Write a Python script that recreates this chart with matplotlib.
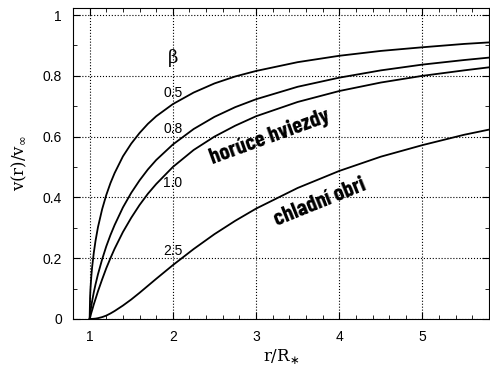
import numpy as np
import matplotlib.pyplot as plt
from matplotlib.ticker import MultipleLocator

# radius r/R* and velocity v(r)/v_inf
r = [1.0, 1.005, 1.01, 1.02, 1.03, 1.05, 1.07, 1.1, 1.15, 1.2, 1.25, 1.3,
     1.4, 1.5, 1.6, 1.7, 1.8, 2.0, 2.25, 2.5, 2.75, 3.0, 3.5, 4.0, 4.5, 5.0,
     5.5, 5.8]
v_05 = [0.0, 0.071, 0.100, 0.140, 0.171, 0.218, 0.256, 0.302, 0.361, 0.408,
        0.447, 0.480, 0.535, 0.577, 0.612, 0.642, 0.667, 0.707, 0.745, 0.775,
        0.798, 0.816, 0.845, 0.866, 0.882, 0.894, 0.905, 0.910]
v_08 = [0.0, 0.014, 0.025, 0.043, 0.059, 0.088, 0.113, 0.147, 0.196, 0.239,
        0.276, 0.309, 0.367, 0.415, 0.456, 0.492, 0.523, 0.574, 0.625, 0.665,
        0.697, 0.723, 0.764, 0.794, 0.818, 0.837, 0.852, 0.860]
v_10 = [0.0, 0.005, 0.010, 0.020, 0.029, 0.048, 0.065, 0.091, 0.130, 0.167,
        0.200, 0.231, 0.286, 0.333, 0.375, 0.412, 0.444, 0.500, 0.556, 0.600,
        0.636, 0.667, 0.714, 0.750, 0.778, 0.800, 0.818, 0.828]
v_25 = [0.0, 0.0, 0.0, 0.0001, 0.0001, 0.0005, 0.001, 0.0025, 0.006, 0.011,
        0.018, 0.026, 0.044, 0.064, 0.086, 0.109, 0.132, 0.177, 0.230, 0.279,
        0.323, 0.363, 0.431, 0.487, 0.534, 0.572, 0.606, 0.623]
beta_labels = ['0.5', '0.8', '1.0', '2.5']
label_y = [0.745, 0.626, 0.446, 0.223]

sans = ['Liberation Sans', 'DejaVu Sans']
cond = ['Barlow Condensed', 'DejaVu Sans']

fig = plt.figure(figsize=(4.9, 3.67), dpi=100)
ax = fig.add_axes([0.149, 0.131, 0.849, 0.847])

for v in (v_05, v_08, v_10, v_25):
    ax.plot(r, v, color='black', linewidth=1.3)

for lab, y in zip(beta_labels, label_y):
    ax.text(2.0, y, lab, ha='center', va='center', fontsize=10, family=sans)
ax.text(2.0, 0.86, 'β', ha='center', va='center', fontsize=13,
        family='DejaVu Serif')

ax.text(3.17, 0.600, 'horúce hviezdy', rotation=20, ha='center',
        va='center', fontsize=16.5, fontweight='bold', family=cond)
ax.text(3.77, 0.385, 'chladní obri', rotation=22, ha='center', va='center',
        fontsize=16.5, fontweight='bold', family=cond)

ax.set_xlim(0.8, 5.8)
ax.set_ylim(0, 1.023)
ax.xaxis.set_major_locator(MultipleLocator(1))
ax.xaxis.set_minor_locator(MultipleLocator(0.2))
ax.yaxis.set_minor_locator(MultipleLocator(0.1))
ax.set_yticks([0, 0.2, 0.4, 0.6, 0.8, 1.0])
ax.set_yticklabels(['0', '0.2', '0.4', '0.6', '0.8', '1'])
for lbl in ax.get_xticklabels() + ax.get_yticklabels():
    lbl.set_family(sans)
ax.tick_params(which='both', direction='in', top=True, right=True,
               labelsize=10)
ax.tick_params(which='major', length=5, pad=8)
ax.tick_params(which='minor', length=3)
ax.grid(True, which='major', linestyle=':', color='black', linewidth=0.8)

ax.set_xlabel(r'r/R$_{\ast}$', family='DejaVu Serif', fontsize=12,
              labelpad=2)
ax.set_ylabel(r'v(r)/v$_{\infty}$', family='DejaVu Serif', fontsize=12,
              labelpad=10)

fig.savefig('out.png', dpi=100)
